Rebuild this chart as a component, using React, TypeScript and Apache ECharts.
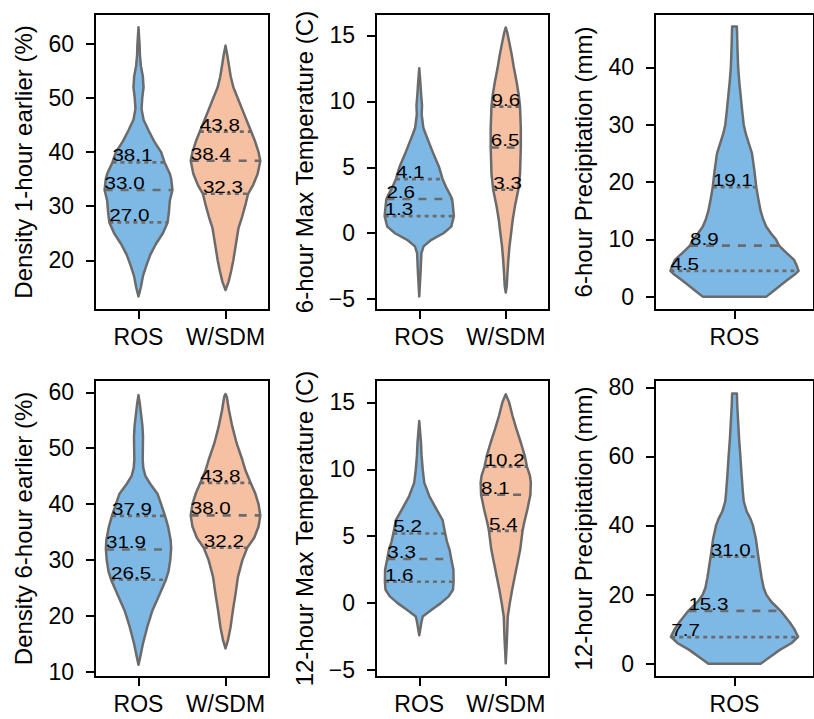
import React, { useEffect, useRef } from 'react';
import * as echarts from 'echarts';

// ---------- categories ----------
const twoCats = ['ROS', 'W/SDM'];
const oneCat = ['ROS'];

// ---------- violin outlines: [value, half-width in category units] ----------
const p1Ros = [[13.3,0],[15,0.027],[17,0.05],[19,0.09],[21,0.135],[23,0.2],[25,0.28],[27,0.335],[29,0.35],[31,0.36],[33,0.39],[35,0.376],[36,0.36],[38.1,0.30],[40,0.26],[42,0.18],[44,0.116],[46,0.058],[48,0.035],[50,0.043],[52,0.058],[54,0.05],[56,0.027],[58,0.016],[60,0.012],[63.1,0]];
const p1Wsdm = [[14.5,0],[16,0.035],[18,0.065],[20,0.09],[22,0.11],[24,0.13],[26,0.15],[28,0.19],[30,0.225],[32.3,0.26],[34,0.32],[36,0.37],[38.4,0.4],[40,0.38],[42,0.34],[43.8,0.295],[46,0.24],[48,0.19],[50,0.14],[52,0.09],[54,0.06],[56,0.04],[58,0.02],[59.7,0]];
const p2Ros = [[-4.8,0],[-3,0.015],[-1.5,0.025],[-1,0.05],[-0.5,0.14],[0,0.28],[0.5,0.37],[1.3,0.4],[2,0.39],[2.6,0.38],[3,0.35],[3.5,0.31],[4.1,0.27],[5,0.23],[6,0.165],[7,0.105],[7.5,0.075],[8,0.047],[9,0.028],[9.7,0.032],[10.5,0.022],[11.5,0.012],[12.5,0]];
const p2Wsdm = [[-4.5,0],[-4,0.012],[-3,0.02],[-2,0.03],[-1,0.043],[0,0.062],[1,0.08],[2,0.105],[3.3,0.145],[4.5,0.165],[6.5,0.174],[8,0.174],[9.6,0.165],[10.5,0.15],[11.5,0.125],[12.5,0.095],[13.5,0.07],[14.5,0.04],[15.2,0.018],[15.6,0]];
const p3Ros = [[0,0.2],[1,0.245],[2,0.29],[3,0.336],[4,0.385],[4.5,0.403],[5.5,0.39],[6.4,0.375],[7.9,0.317],[8.9,0.28],[10,0.26],[11,0.23],[12.2,0.2],[13.5,0.18],[15,0.164],[17,0.15],[19.1,0.137],[22,0.125],[25,0.11],[27,0.087],[28.5,0.07],[30,0.058],[32.5,0.048],[35,0.039],[37.5,0.03],[40,0.023],[43,0.019],[45,0.017],[47.1,0.015]];
const p4Ros = [[11.3,0],[12.7,0.02],[15,0.05],[18,0.1],[21,0.16],[24,0.245],[26.5,0.315],[28,0.345],[30,0.365],[32,0.375],[33.5,0.37],[36,0.34],[37.9,0.305],[40,0.26],[41.8,0.22],[43.6,0.136],[45,0.08],[46.5,0.055],[48,0.048],[50,0.05],[52,0.052],[54,0.045],[56,0.03],[58,0.015],[59.5,0]];
const p4Wsdm = [[14.2,0],[15.6,0.027],[18,0.058],[21,0.085],[24,0.116],[27,0.143],[30,0.194],[32.2,0.25],[34,0.33],[36,0.38],[38,0.4],[40,0.38],[42,0.34],[43.8,0.29],[46,0.23],[47.9,0.194],[50.9,0.128],[53.9,0.078],[56.8,0.04],[59.2,0.015],[59.7,0]];
const p5Ros = [[-2.4,0],[-1.5,0.023],[-1,0.04],[-0.5,0.143],[0,0.25],[0.5,0.34],[1,0.39],[1.6,0.397],[2.5,0.395],[3.3,0.37],[4,0.35],[4.6,0.32],[5.2,0.3],[6.2,0.27],[7,0.2],[8,0.116],[9,0.058],[10,0.04],[11,0.027],[12,0.02],[13.6,0]];
const p5Wsdm = [[-4.5,0],[-2.5,0.015],[-1,0.023],[0,0.047],[1,0.074],[2,0.105],[3,0.136],[4,0.167],[5.4,0.194],[6,0.213],[7,0.25],[8.1,0.285],[9,0.29],[9.5,0.28],[10.2,0.245],[11,0.22],[12,0.174],[13,0.124],[14,0.078],[15,0.039],[15.6,0]];
const p6Ros = [[0,0.164],[2,0.225],[4,0.285],[6,0.36],[7.8,0.4],[10,0.376],[12,0.347],[15.3,0.29],[18,0.23],[20,0.2],[22,0.183],[25,0.17],[28,0.16],[31,0.15],[36,0.135],[40,0.116],[42,0.1],[44,0.077],[47,0.058],[50,0.052],[55,0.044],[60,0.037],[65,0.029],[70,0.023],[75,0.017],[78.2,0.015]];

// ---------- quartiles (25%, median, 75%) ----------
const p1RosQ = [27.0, 33.0, 38.1];
const p1WsdmQ = [32.3, 38.4, 43.8];
const p2RosQ = [1.3, 2.6, 4.1];
const p2WsdmQ = [3.3, 6.5, 9.6];
const p3RosQ = [4.5, 8.9, 19.1];
const p4RosQ = [26.5, 31.9, 37.9];
const p4WsdmQ = [32.2, 38.0, 43.8];
const p5RosQ = [1.6, 3.3, 5.2];
const p5WsdmQ = [5.4, 8.1, 10.2];
const p6RosQ = [7.7, 15.3, 31.0];

// ---------- axis tick values ----------
const p1Ticks = [20, 30, 40, 50, 60];
const p2Ticks = [-5, 0, 5, 10, 15];
const p3Ticks = [0, 10, 20, 30, 40];
const p4Ticks = [10, 20, 30, 40, 50, 60];
const p5Ticks = [-5, 0, 5, 10, 15];
const p6Ticks = [0, 20, 40, 60, 80];

// ---------- axis titles ----------
const yTitles = [
  'Density 1-hour earlier (%)',
  '6-hour Max Temperature (C)',
  '6-hour Precipitation (mm)',
  'Density 6-hour earlier (%)',
  '12-hour Max Temperature (C)',
  '12-hour Precipitation (mm)',
];

const BLUE = '#7eb9e6';
const ORANGE = '#f6c0a2';
const GRAY = '#6b6b6b';
const FONT = '"Liberation Sans", Arial, Helvetica, sans-serif';

type Violin = { outline: number[][]; q: number[]; color: string };
type Panel = {
  cats: string[];
  violins: Violin[];
  ticks: number[];
  min: number;
  max: number;
  grid: { left: number; top: number; width: number; height: number };
};

const panels: Panel[] = [
  { cats: twoCats, violins: [{ outline: p1Ros, q: p1RosQ, color: BLUE }, { outline: p1Wsdm, q: p1WsdmQ, color: ORANGE }], ticks: p1Ticks, min: 10.8, max: 65.55, grid: { left: 95, top: 14, width: 174, height: 296 } },
  { cats: twoCats, violins: [{ outline: p2Ros, q: p2RosQ, color: BLUE }, { outline: p2Wsdm, q: p2WsdmQ, color: ORANGE }], ticks: p2Ticks, min: -5.82, max: 16.62, grid: { left: 376, top: 14, width: 173, height: 296 } },
  { cats: oneCat, violins: [{ outline: p3Ros, q: p3RosQ, color: BLUE }], ticks: p3Ticks, min: -2.33, max: 49.3, grid: { left: 655, top: 14, width: 173, height: 296 } },
  { cats: twoCats, violins: [{ outline: p4Ros, q: p4RosQ, color: BLUE }, { outline: p4Wsdm, q: p4WsdmQ, color: ORANGE }], ticks: p4Ticks, min: 9.1, max: 62.2, grid: { left: 95, top: 380, width: 174, height: 297 } },
  { cats: twoCats, violins: [{ outline: p5Ros, q: p5RosQ, color: BLUE }, { outline: p5Wsdm, q: p5WsdmQ, color: ORANGE }], ticks: p5Ticks, min: -5.52, max: 16.67, grid: { left: 376, top: 380, width: 173, height: 297 } },
  { cats: oneCat, violins: [{ outline: p6Ros, q: p6RosQ, color: BLUE }], ticks: p6Ticks, min: -3.85, max: 82.1, grid: { left: 655, top: 380, width: 173, height: 297 } },
];

function widthAt(outline: number[][], y: number): number {
  for (let i = 0; i < outline.length - 1; i++) {
    const [y0, w0] = outline[i];
    const [y1, w1] = outline[i + 1];
    if (y >= y0 && y <= y1) {
      const t = y1 === y0 ? 0 : (y - y0) / (y1 - y0);
      return w0 + t * (w1 - w0);
    }
  }
  return 0;
}

function makeRenderItem(panel: Panel) {
  return (params: any, api: any) => {
    const v = panel.violins[params.dataIndex];
    const cat = api.value(0);
    const band = api.size([1, 0])[0];
    const cx = api.coord([cat, 0])[0];
    const right = v.outline.map(([y, w]) => [cx + w * band, api.coord([cat, y])[1]]);
    const left = v.outline.slice().reverse().map(([y, w]) => [cx - w * band, api.coord([cat, y])[1]]);
    const children: any[] = [
      {
        type: 'polygon',
        shape: { points: right.concat(left) },
        style: { fill: v.color, stroke: GRAY, lineWidth: 2.5, lineJoin: 'round' },
      },
    ];
    v.q.forEach((qv, k) => {
      const w = widthAt(v.outline, qv) * band;
      const y = api.coord([cat, qv])[1];
      const dash = k === 1 ? [8, 8] : [4, 4];
      children.push({
        type: 'line',
        shape: { x1: cx - w, y1: y, x2: cx + w, y2: y },
        style: { stroke: GRAY, lineWidth: 2.6, lineDash: dash },
      });
    });
    v.q.forEach((qv) => {
      const w = widthAt(v.outline, qv) * band;
      const y = api.coord([cat, qv])[1];
      children.push({
        type: 'text',
        x: cx - w,
        y: y - 6.8,
        scaleX: 1.25,
        scaleY: 1,
        style: {
          text: qv.toFixed(1),
          x: 0,
          y: 0,
          fill: '#000',
          fontSize: 16.5,
          lineHeight: 13,
          fontFamily: FONT,
          textAlign: 'left',
          textVerticalAlign: 'middle',
        },
      });
    });
    return { type: 'group', children };
  };
}

const fmtTick = (v: number) => (v < 0 ? '\u2212' + Math.abs(v) : String(v));

export default function App() {
  const ref = useRef<HTMLDivElement>(null);
  useEffect(() => {
    if (!ref.current) return;
    const chart = echarts.init(ref.current, undefined, { renderer: 'svg' });
    const grid = panels.map((p) => ({
      ...p.grid,
      show: true,
      borderColor: '#000',
      borderWidth: 2,
      backgroundColor: 'transparent',
      containLabel: false,
    }));
    const xAxis = panels.map((p, i) => ({
      type: 'category',
      gridIndex: i,
      data: p.cats,
      axisLine: { show: true, onZero: false, lineStyle: { color: '#000', width: 2 } },
      axisTick: { show: true, alignWithLabel: true, length: 9, lineStyle: { color: '#000', width: 2 } },
      axisLabel: { color: '#000', fontSize: 23, fontFamily: FONT, margin: 15, interval: 0 },
      splitLine: { show: false },
    }));
    const yAxis = panels.map((p, i) => ({
      type: 'value',
      gridIndex: i,
      min: p.min,
      max: p.max,
      name: yTitles[i],
      nameLocation: 'middle',
      nameGap: 60,
      nameTextStyle: { color: '#000', fontSize: 24, fontFamily: FONT },
      axisLine: { show: true, onZero: false, lineStyle: { color: '#000', width: 2 } },
      axisTick: { show: true, length: 9, customValues: p.ticks, lineStyle: { color: '#000', width: 2 } },
      axisLabel: { color: '#000', fontSize: 23, fontFamily: FONT, margin: 21, customValues: p.ticks, formatter: fmtTick },
      splitLine: { show: false },
    }));
    const series = panels.map((p, i) => ({
      type: 'custom',
      xAxisIndex: i,
      yAxisIndex: i,
      renderItem: makeRenderItem(p),
      data: p.violins.map((_, k) => [k, (p.min + p.max) / 2]),
      clip: false,
      silent: true,
    }));
    chart.setOption({ animation: false, grid, xAxis, yAxis, series } as any);
    return () => chart.dispose();
  }, []);
  return <div ref={ref} style={{ position: 'fixed', left: 0, top: 0, width: 814, height: 719, background: '#fff' }} />;
}
